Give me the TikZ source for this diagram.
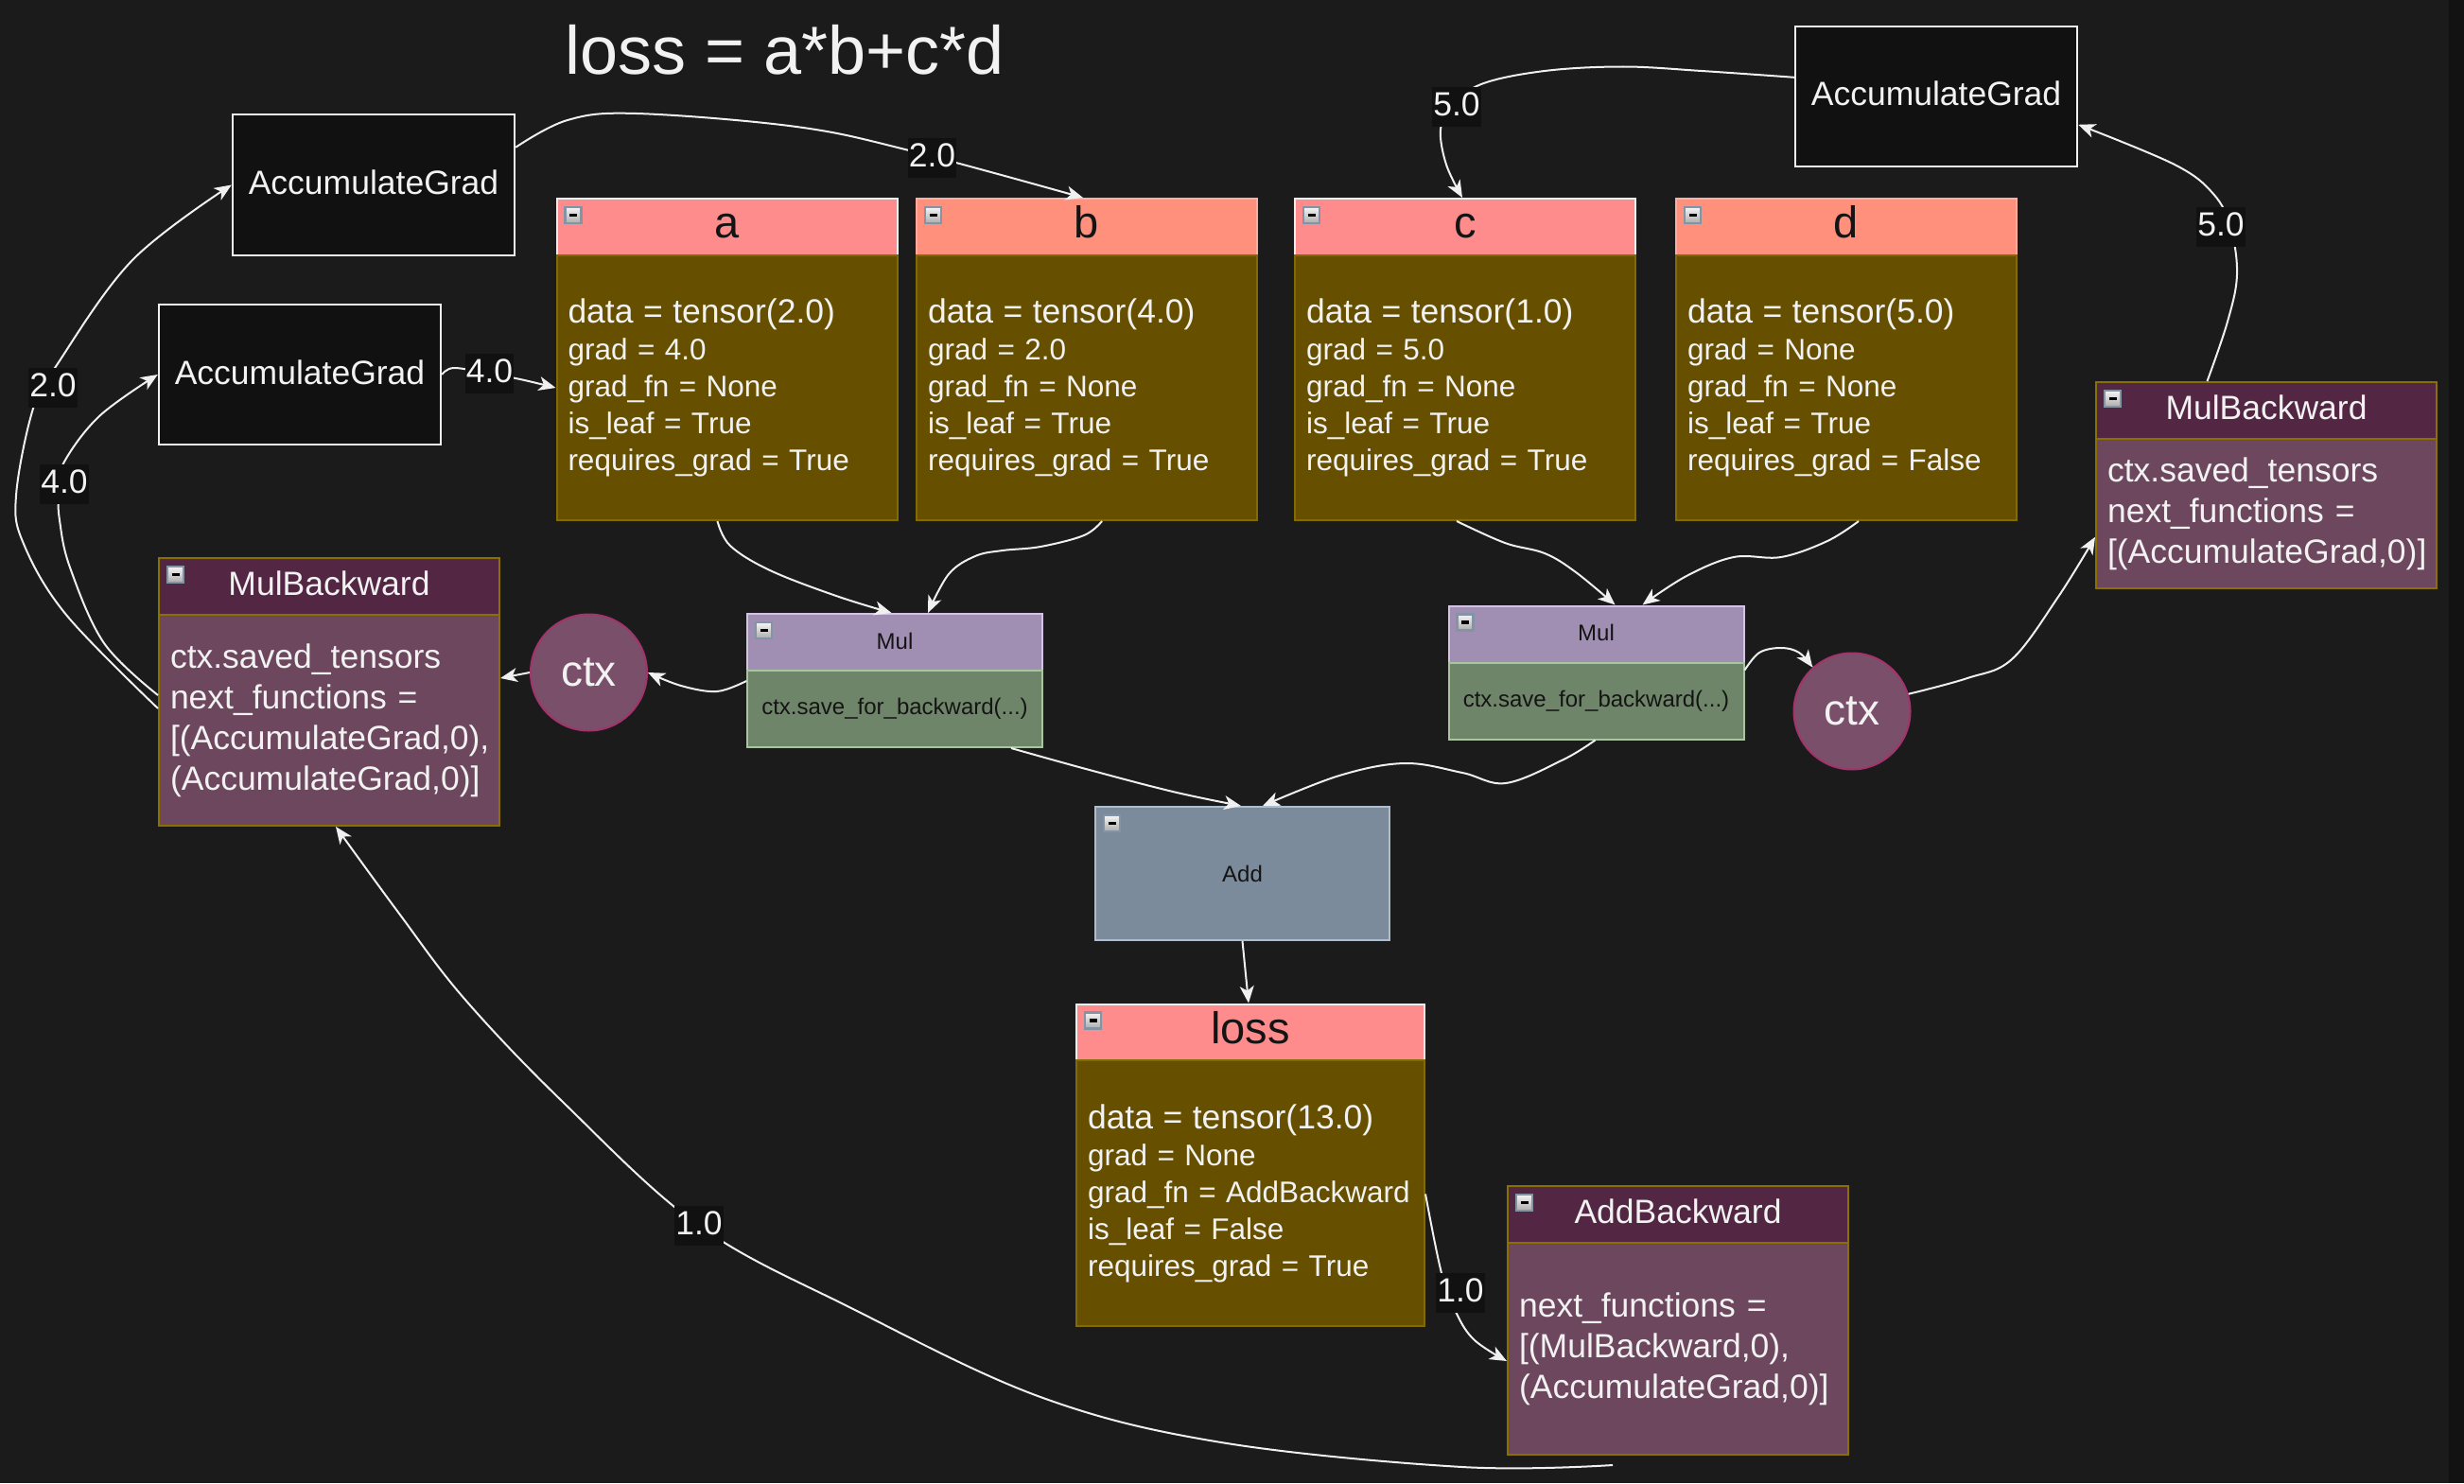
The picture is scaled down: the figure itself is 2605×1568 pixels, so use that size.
\documentclass[tikz,border=0pt]{standalone}
\usepackage{fontspec}
\setmainfont{Liberation Sans}
\usetikzlibrary{calc,arrows.meta}
\hyphenpenalty=10000
\exhyphenpenalty=10000

\definecolor{bgC}{HTML}{1B1B1B}
\definecolor{stripC}{HTML}{121212}
\definecolor{agFill}{HTML}{111111}
\definecolor{lineC}{HTML}{F0F0F0}
\definecolor{hdA}{HTML}{FF8C8C}
\definecolor{hdAb}{HTML}{EDEDED}
\definecolor{hdB}{HTML}{FF917C}
\definecolor{hdBb}{HTML}{FFADA0}
\definecolor{bodyF}{HTML}{665000}
\definecolor{bodyB}{HTML}{826B00}
\definecolor{mulH}{HTML}{A08FB2}
\definecolor{mulHb}{HTML}{D2C4E2}
\definecolor{mulBd}{HTML}{6F8569}
\definecolor{mulBb}{HTML}{A9C4A0}
\definecolor{addF}{HTML}{7B8B9B}
\definecolor{addB}{HTML}{AEBDCC}
\definecolor{fnH}{HTML}{532743}
\definecolor{fnB}{HTML}{6C475E}
\definecolor{fnBorder}{HTML}{8A7000}
\definecolor{ctxF}{HTML}{7A4F6A}
\definecolor{ctxB}{HTML}{A3336B}
\definecolor{lblF}{HTML}{111111}
\definecolor{icoB}{HTML}{8494A6}
\definecolor{txtW}{HTML}{F2F2F2}
\definecolor{txtD}{HTML}{141414}

\newcommand{\firstln}[1]{{\fontsize{17.75}{19.5}\selectfont #1}}

\tikzset{
  box/.style={draw, rectangle, inner sep=0pt, line width=1pt},
  agbox/.style={box, fill=agFill, draw=lineC, line width=1.2pt, minimum width=149pt, minimum height=74.5pt, text=txtW, font=\fontsize{17.75}{21}\selectfont, text height=12.8pt, text depth=2.8pt},
  thA/.style={box, fill=hdA, draw=hdAb, minimum width=180pt, minimum height=30pt, text=txtD, font=\fontsize{23.5}{26}\selectfont, text height=16.9pt, text depth=5pt},
  thB/.style={thA, fill=hdB, draw=hdBb},
  tbody/.style={box, fill=bodyF, draw=bodyB, minimum width=180pt, minimum height=140pt, text width=168pt, inner xsep=6pt, align=left, text=txtW, font=\fontsize{15.75}{19.5}\selectfont},
  mulhd/.style={box, fill=mulH, draw=mulHb, minimum width=156pt, minimum height=30pt, text=txtD, font=\fontsize{12}{14}\selectfont, text height=8.6pt, text depth=1.6pt},
  mulbd/.style={box, fill=mulBd, draw=mulBb, minimum width=156pt, minimum height=40.5pt, text=txtD, font=\fontsize{12}{14}\selectfont},
  addbox/.style={box, fill=addF, draw=addB, minimum width=155.5pt, minimum height=70.5pt, text=txtD, font=\fontsize{12}{14}\selectfont},
  fnhd/.style={box, fill=fnH, draw=fnBorder, minimum width=180pt, minimum height=30pt, text=txtW, font=\fontsize{17.75}{21}\selectfont, text height=12.8pt, text depth=3.8pt},
  fnbd/.style={box, fill=fnB, draw=fnBorder, minimum width=180pt, text width=168pt, inner xsep=6pt, align=left, text=txtW, font=\fontsize{17.75}{21.5}\selectfont},
  ctxn/.style={circle, fill=ctxF, draw=ctxB, line width=1pt, minimum size=61.5pt, inner sep=0pt, text=txtW, font=\fontsize{23}{26}\selectfont},
  lbl/.style={fill=lblF, text=txtW, font=\fontsize{17.75}{20}\selectfont, inner xsep=0.6pt, inner ysep=0pt, minimum height=21pt, text height=9.5pt, text depth=0pt},
  conn/.style={draw=lineC, line width=1pt, -{Stealth[length=9pt,width=7.5pt,inset=2.5pt]}},
  mico/.pic={
    \draw[draw=icoB, line width=1.2pt, top color=white!92!gray, bottom color=gray!65] (0,0) rectangle (17,17);
    \draw[line width=1.6pt, black] (4.5,8.5) -- (12.5,8.5);
  }
}

\begin{document}
\begin{tikzpicture}[x=0.5pt,y=-0.5pt]
\fill[bgC] (0,0) rectangle (2605,1568);
\useasboundingbox (0,0) rectangle (2605,1568);
\fill[stripC] (2589,0) rectangle (2605,1568);

% title
\node[anchor=base, text=txtW, font=\fontsize{36}{40}\selectfont, inner sep=0pt] (title) at (829.5,78.5) {loss = a*b+c*d};

% AccumulateGrad boxes
\node[agbox] (ag1) at (395,195.5) {AccumulateGrad};
\node[agbox, minimum height=74pt] (ag2) at (317,396) {AccumulateGrad};
\node[agbox, minimum height=74pt] (ag3) at (2047,102) {AccumulateGrad};

% tensor boxes: headers then bodies
\node[thA] (ah) at (768.5,240) {a};
\node[thB] (bh) at (1149,240) {b};
\node[thA] (ch) at (1549,240) {c};
\node[thB] (dh) at (1952,240) {d};
\node[tbody] (a) at (768.5,410) {\firstln{data = tensor(2.0)}\\grad = 4.0\\grad\_fn = None\\is\_leaf = True\\requires\_grad = True};
\node[tbody] (b) at (1149,410) {\firstln{data = tensor(4.0)}\\grad = 2.0\\grad\_fn = None\\is\_leaf = True\\requires\_grad = True};
\node[tbody] (c) at (1549,410) {\firstln{data = tensor(1.0)}\\grad = 5.0\\grad\_fn = None\\is\_leaf = True\\requires\_grad = True};
\node[tbody] (d) at (1952,410) {\firstln{data = tensor(5.0)}\\grad = None\\grad\_fn = None\\is\_leaf = True\\requires\_grad = False};

\node[thA, minimum width=184pt] (lossh) at (1322,1091.5) {loss};
\node[tbody, minimum width=184pt, text width=172pt, minimum height=140.3pt] (loss) at (1322,1261.7) {\firstln{data = tensor(13.0)}\\grad = None\\grad\_fn = AddBackward\\is\_leaf = False\\requires\_grad = True};

% Mul / Add
\node[mulhd] (mullh) at (946,679) {Mul};
\node[mulbd] (mull) at (946,749.5) {ctx.save\_for\_backward(...)};
\node[mulhd] (mulrh) at (1687.5,670.5) {Mul};
\node[mulbd] (mulr) at (1687.5,741) {ctx.save\_for\_backward(...)};
\node[addbox] (add) at (1313.5,923.5) {Add};

% backward function boxes
\node[fnhd] (mblh) at (348,620) {MulBackward};
\node[fnbd, minimum height=111.5pt] (mbl) at (348,761.5) {ctx.saved\_tensors\\next\_functions =\\{[}(AccumulateGrad,0),\\(AccumulateGrad,0)]};
\node[fnhd] (mbrh) at (2396,434) {MulBackward};
\node[fnbd, minimum height=79.25pt] (mbr) at (2396,543) {ctx.saved\_tensors\\next\_functions =\\{[}(AccumulateGrad,0)]};
\node[fnhd] (abh) at (1774,1284) {AddBackward};
\node[fnbd, minimum height=112pt] (ab) at (1774,1426) {next\_functions =\\{[}(MulBackward,0),\\(AccumulateGrad,0)]};

% ctx circles
\node[ctxn] (ctxl) at (622.5,711) {ctx};
\node[ctxn] (ctxr) at (1958,752) {ctx};

% minus icons
\foreach \n in {ah,bh,ch,dh,lossh,mblh,mbrh,abh,mullh,mulrh,add}
  \pic at ($(\n.north west)+(10,10)$) {mico};

% connectors
\draw[conn] plot[smooth, tension=0.6] coordinates {($(ag1.north east)+(0,36)$) (600,127) (673,120) (842,134) (961,159) ($(bh.north west)+(177,0)$)};
\draw[conn] plot[smooth, tension=0.6] coordinates {(ag2.east) (480,389) (517,395) (550,401) (a.west)};
\draw[conn] plot[smooth, tension=0.6] coordinates {($(mbl.north west)+(0,100)$) (70,650) (25,575) (17,524) (35,432) (60,386) (140,275) (ag1.west)};
\draw[conn] plot[smooth, tension=0.6] coordinates {($(mbl.north west)+(0,86)$) (110,680) (74,600) (63,550) (62,520) (67,490) (105,440) (ag2.west)};
\draw[conn] plot[smooth, tension=0.6] coordinates {($(mull.north west)+(0,12)$) (758,731) (720,725) (ctxl.east)};
\draw[conn] (ctxl.west) -- ($(mbl.north east)+(0,68)$);
\draw[conn] plot[smooth, tension=0.6] coordinates {($(a.south west)+(171,0)$) (772,577) (814,603) (884,630) ($(mullh.north west)+(153.5,0)$)};
\draw[conn] plot[smooth, tension=0.6] coordinates {($(b.south west)+(197,0)$) (1146,566) (1100,578) (1060,582) (1031,588) (1003,607) ($(mullh.north west)+(192,0)$)};
\draw[conn] plot[smooth, tension=0.6] coordinates {($(c.south west)+(172,0)$) (1591,574) (1633,585) (1666,605) ($(mulrh.north west)+(177,0)$)};
\draw[conn] plot[smooth, tension=0.6] coordinates {($(d.south west)+(194,0)$) (1932,572) (1883,589) (1833,589) (1783,609) ($(mulrh.north west)+(206,0)$)};
\draw[conn] plot[smooth, tension=0.6] coordinates {($(mull.south west)+(280,0)$) (1148,813) (1240,837) ($(add.north west)+(155,0)$)};
\draw[conn] plot[smooth, tension=0.6] coordinates {($(mulr.south west)+(156,0)$) (1653,803) (1592,828) (1546,817) (1485,807) (1416,820) ($(add.north west)+(178,0)$)};
\draw[conn] plot[smooth, tension=0.6] coordinates {($(mulr.north east)+(0,9)$) (1860,690) (1883,685) (1902,690) (ctxr.132)};
\draw[conn] plot[smooth, tension=0.6] coordinates {(ctxr.17) (2080,717) (2127,697) (2176,631) ($(mbr.north west)+(0,105)$)};
\draw[conn] plot[smooth, tension=0.6] coordinates {($(mbrh.north west)+(118.5,0)$) (2355,340) (2365,290) (2358,240) (2340,205) (2299,174) ($(ag3.north east)+(0,105)$)};
\draw[conn] plot[smooth, tension=0.6] coordinates {($(ag3.north west)+(0,55)$) (1799,75) (1716,70.5) (1633,75) (1566,89) (1535,113) (1523,137) (1529,174) ($(ch.north west)+(178,0)$)};
\draw[conn] (add.south) -- ($(lossh.north west)+(183,0)$);
\draw[conn] plot[smooth, tension=0.6] coordinates {($(loss.north east)+(0,142)$) (1524,1346) (1540,1389) (1559,1417) ($(ab.north west)+(0,126)$)};
\draw[conn] plot[smooth, tension=0.6] coordinates {($(ab.south west)+(112,10)$) (1546,1551) (1291,1525) (1100,1477) (900,1383) (739,1296) (596,1166) (491,1056) (421,964.5) ($(mbl.south west)+(188,0)$)};

% edge labels
\node[lbl] (l1) at (985.5,167) {2.0};
\node[lbl] (l2) at (517.5,395) {4.0};
\node[lbl] (l3) at (56,409.5) {2.0};
\node[lbl] (l4) at (68,512) {4.0};
\node[lbl] (l5) at (2348,240) {5.0};
\node[lbl] (l6) at (1540,113) {5.0};
\node[lbl] (l7) at (1544,1367) {1.0};
\node[lbl] (l8) at (739,1296) {1.0};
\end{tikzpicture}
\end{document}
